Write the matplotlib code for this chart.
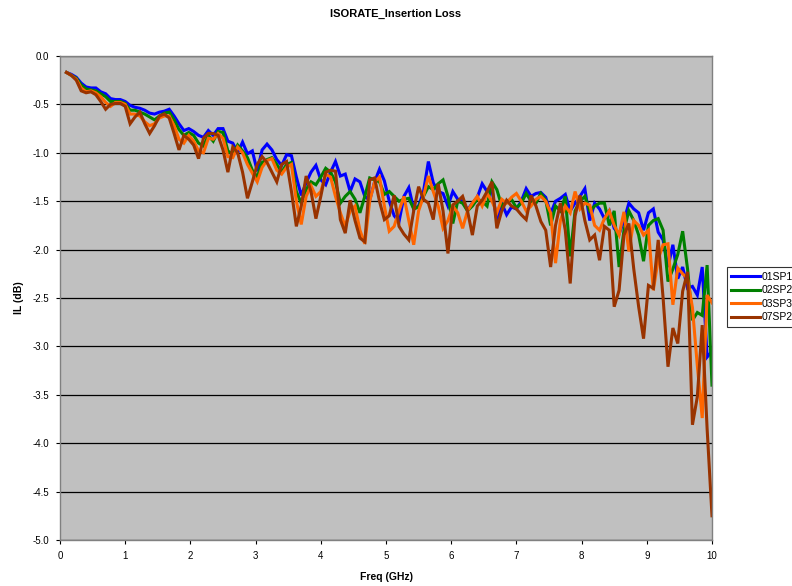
import numpy as np
import matplotlib
matplotlib.use("Agg")
import matplotlib.pyplot as plt

plt.rcParams['font.family'] = ['Liberation Sans', 'DejaVu Sans']

# frequency grid, 0.1 .. 10 GHz
freq = np.linspace(0.1, 10.0, 133)

sp01 = [-0.17, -0.19, -0.22, -0.28, -0.32, -0.33, -0.33, -0.37, -0.39, -0.44, -0.45, -0.45,
        -0.47, -0.51, -0.53, -0.54, -0.56, -0.59, -0.60, -0.58, -0.57, -0.55, -0.62, -0.70,
        -0.77, -0.75, -0.78, -0.82, -0.84, -0.77, -0.82, -0.75, -0.75, -0.88, -0.90, -1.00,
        -0.89, -1.01, -0.98, -1.19, -0.97, -0.91, -0.97, -1.07, -1.13, -1.02, -1.03, -1.25,
        -1.44, -1.31, -1.20, -1.13, -1.28, -1.33, -1.20, -1.09, -1.24, -1.22, -1.40, -1.27,
        -1.30, -1.45, -1.49, -1.30, -1.17, -1.29, -1.50, -1.65, -1.71, -1.45, -1.36, -1.58,
        -1.55, -1.40, -1.09, -1.31, -1.40, -1.42, -1.55, -1.40, -1.48, -1.50, -1.59, -1.52,
        -1.46, -1.32, -1.40, -1.38, -1.70, -1.52, -1.64, -1.56, -1.58, -1.50, -1.37, -1.45,
        -1.42, -1.41, -1.46, -1.63, -1.50, -1.47, -1.43, -1.60, -1.52, -1.45, -1.37, -1.70,
        -1.52, -1.58, -1.68, -1.60, -1.78, -1.84, -1.70, -1.52, -1.58, -1.62, -1.80, -1.62,
        -1.58, -1.82, -1.90, -2.18, -1.95, -2.30, -2.18, -2.40, -2.38, -2.47, -2.18, -3.11,
        -3.05]

sp02 = [-0.17, -0.20, -0.23, -0.30, -0.34, -0.35, -0.36, -0.39, -0.42, -0.47, -0.47, -0.47,
        -0.49, -0.56, -0.56, -0.58, -0.60, -0.63, -0.66, -0.62, -0.59, -0.58, -0.66, -0.76,
        -0.82, -0.79, -0.82, -0.90, -0.93, -0.82, -0.88, -0.78, -0.79, -0.98, -1.02, -0.92,
        -0.98, -1.05, -1.18, -1.25, -1.10, -1.07, -1.05, -1.12, -1.20, -1.12, -1.10, -1.40,
        -1.52, -1.38, -1.30, -1.33, -1.25, -1.16, -1.20, -1.30, -1.52, -1.45, -1.40, -1.48,
        -1.62, -1.45, -1.26, -1.28, -1.30, -1.43, -1.40, -1.45, -1.50, -1.48, -1.47, -1.58,
        -1.56, -1.45, -1.35, -1.38, -1.32, -1.28, -1.45, -1.73, -1.50, -1.52, -1.60, -1.55,
        -1.48, -1.50, -1.55, -1.30, -1.38, -1.55, -1.50, -1.48, -1.57, -1.52, -1.42, -1.50,
        -1.52, -1.42, -1.49, -1.75, -1.55, -1.60, -1.45, -2.07, -1.60, -1.50, -1.45, -1.60,
        -1.55, -1.52, -1.52, -1.75, -1.60, -2.18, -1.80, -1.60, -1.70, -1.85, -2.12, -1.75,
        -1.70, -1.68, -1.80, -2.33, -2.20, -2.05, -1.81, -2.20, -2.73, -2.65, -2.68, -2.16,
        -3.40]

sp03 = [-0.17, -0.20, -0.24, -0.33, -0.37, -0.36, -0.38, -0.42, -0.48, -0.52, -0.48, -0.48,
        -0.50, -0.60, -0.60, -0.62, -0.68, -0.72, -0.70, -0.64, -0.62, -0.62, -0.72, -0.86,
        -0.90, -0.82, -0.88, -0.98, -1.00, -0.85, -0.86, -0.80, -0.85, -1.04, -1.05, -0.94,
        -1.00, -1.12, -1.21, -1.30, -1.15, -1.08, -1.06, -1.18, -1.22, -1.15, -1.12, -1.50,
        -1.74, -1.45, -1.34, -1.45, -1.40, -1.22, -1.25, -1.45, -1.62, -1.76, -1.60, -1.55,
        -1.80, -1.94, -1.50, -1.30, -1.25, -1.55, -1.81, -1.76, -1.60, -1.45, -1.70, -1.95,
        -1.60, -1.45, -1.24, -1.40, -1.55, -1.78, -1.70, -1.55, -1.62, -1.78, -1.60, -1.52,
        -1.45, -1.55, -1.42, -1.50, -1.62, -1.48, -1.52, -1.46, -1.42, -1.50, -1.60, -1.55,
        -1.48, -1.45, -1.50, -1.62, -2.14, -1.70, -1.55, -1.62, -1.40, -1.58, -1.52, -1.54,
        -1.75, -1.80, -1.68, -1.60, -1.75, -1.85, -1.61, -2.02, -1.70, -1.75, -1.85, -1.80,
        -2.42, -2.10, -1.95, -1.94, -2.57, -2.19, -2.25, -2.30, -2.60, -3.20, -3.74, -2.47,
        -2.55]

sp07 = [-0.17, -0.20, -0.25, -0.36, -0.38, -0.37, -0.40, -0.47, -0.55, -0.50, -0.49, -0.49,
        -0.52, -0.70, -0.63, -0.58, -0.70, -0.80, -0.72, -0.62, -0.60, -0.64, -0.80, -0.97,
        -0.82, -0.86, -0.92, -1.06, -0.85, -0.80, -0.80, -0.82, -0.97, -1.20, -0.94, -1.00,
        -1.20, -1.47, -1.30, -1.12, -1.04, -1.10, -1.20, -1.30, -1.12, -1.09, -1.40, -1.76,
        -1.55, -1.24, -1.40, -1.68, -1.45, -1.20, -1.18, -1.19, -1.69, -1.83, -1.49, -1.70,
        -1.88, -1.92, -1.28, -1.26, -1.50, -1.69, -1.65, -1.44, -1.76, -1.84, -1.90, -1.60,
        -1.35, -1.48, -1.52, -1.69, -1.32, -1.60, -2.04, -1.54, -1.50, -1.45, -1.60, -1.85,
        -1.55, -1.49, -1.40, -1.30, -1.78, -1.60, -1.49, -1.55, -1.58, -1.64, -1.69, -1.44,
        -1.55, -1.71, -1.80, -2.18, -1.75, -1.52, -1.80, -2.35, -1.65, -1.44, -1.70, -1.90,
        -1.85, -2.11, -1.76, -1.80, -2.59, -2.42, -1.85, -1.73, -2.20, -2.59, -2.92, -2.37,
        -2.40, -1.90, -2.50, -3.21, -2.81, -2.97, -2.43, -2.23, -3.81, -3.52, -2.78, -3.85,
        -4.75]

series = [("01SP1", sp01, "#0000ff"),
          ("02SP2", sp02, "#008000"),
          ("03SP3", sp03, "#ff6600"),
          ("07SP2", sp07, "#993300")]

fig = plt.figure(figsize=(7.92, 5.86), dpi=100)
ax = fig.add_axes([60 / 792, 1 - 540 / 586, 652 / 792, 484 / 586])
ax.set_facecolor("#c0c0c0")

for name, vals, col in series:
    ax.plot(freq, vals, color=col, lw=2.2, label=name, solid_joinstyle="miter")

ax.set_xlim(0, 10)
ax.set_ylim(-5, 0)
ax.set_xticks(range(0, 11))
ax.set_yticks(np.arange(-5.0, 0.01, 0.5))
ax.set_yticklabels([f"{v:.1f}" for v in np.arange(-5.0, 0.01, 0.5)])
ax.yaxis.grid(True, color="black", lw=0.9)
ax.set_axisbelow(True)
ax.tick_params(labelsize=7, length=3, width=0.8, direction="out")
ax.tick_params(axis="x", pad=5)
ax.tick_params(axis="y", pad=5)
for s in ax.spines.values():
    s.set_color("#808080")
    s.set_linewidth(1.0)

ax.set_xlabel("Freq (GHz)", fontsize=7.5, fontweight="bold", labelpad=8)
ax.set_ylabel("IL (dB)", fontsize=7.5, fontweight="bold", labelpad=6)
fig.text(396 / 792, 1 - 14 / 586, "ISORATE_Insertion Loss", ha="center", va="center",
         fontsize=8, fontweight="bold")

leg = fig.legend(loc="center left", bbox_to_anchor=(727 / 792, 1 - 297 / 586),
                 fontsize=7.5, frameon=True, fancybox=False, handlelength=2.8,
                 handletextpad=0.1, borderpad=0.4, labelspacing=0.35, borderaxespad=0)
leg.get_frame().set_edgecolor("black")
leg.get_frame().set_linewidth(0.8)

fig.savefig("out.png", dpi=100, facecolor="white")
